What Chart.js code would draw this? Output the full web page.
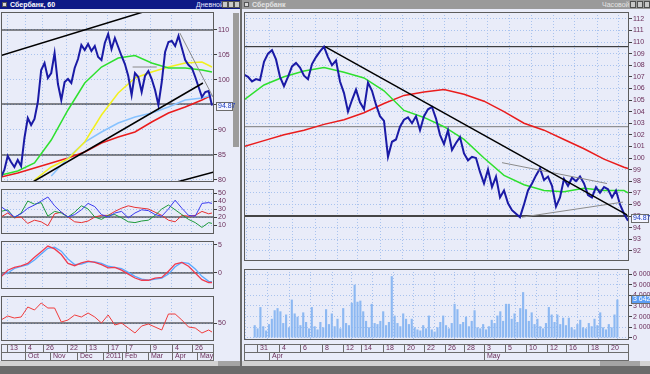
<!DOCTYPE html>
<html>
<head>
<meta charset="utf-8">
<script src="https://cdn.jsdelivr.net/npm/chart.js@4.4.1/dist/chart.umd.min.js"></script>
<style>
body{margin:0;width:650px;height:374px;background:#6b6b6b;position:relative;overflow:hidden;font-family:"Liberation Sans",Arial,sans-serif}
.win{position:absolute;background:#e9ecf9}
.bar{position:absolute;height:9px;font-size:7px;line-height:9px;font-weight:bold;box-sizing:border-box;padding-left:10px;white-space:nowrap}
.bar i{position:absolute;left:2px;top:2px;width:5px;height:5px;background:#d8d8d8;border:1px solid #555;box-sizing:border-box}
.bar span{position:absolute;font-weight:normal}
.btn{position:absolute;top:1px;width:6px;height:7px;background:#c8c8c8;border:1px solid #505050;box-sizing:border-box}
canvas{position:absolute}
</style>
</head>
<body>
<div class="win" style="left:0;top:9px;width:240px;height:357px"></div>
<div class="win" style="left:242px;top:9px;width:408px;height:357px"></div>
<div class="bar" style="left:0;top:0;width:240px;background:#0e1a86;color:#fff"><i></i>Сбербанк, 60<span style="left:196px;color:#e8e8ff">Дневной</span>
  <div class="btn" style="left:222px"></div><div class="btn" style="left:228px"></div><div class="btn" style="left:234px"></div></div>
<div class="bar" style="left:242px;top:0;width:408px;background:#9a9a9a;color:#e4e4e4"><i></i>Сбербанк<span style="left:360px">Часовой</span>
  <div class="btn" style="left:388px"></div><div class="btn" style="left:395px"></div><div class="btn" style="left:402px"></div></div>
<div style="position:absolute;left:233px;top:13px;width:6px;height:134px;background:#9c9c9c"></div>
<div style="position:absolute;left:0;top:361px;width:240px;height:5px;background:#d2d2d2"></div>
<div style="position:absolute;left:218px;top:361px;width:22px;height:5px;background:#a4a4a4"></div>
<div style="position:absolute;left:242px;top:361px;width:408px;height:5px;background:#d2d2d2"></div>
<div style="position:absolute;left:600px;top:361px;width:40px;height:5px;background:#a4a4a4"></div>

<canvas id="lp" width="239" height="170" style="left:1px;top:12px"></canvas>
<canvas id="ld" width="239" height="45" style="left:1px;top:189px"></canvas>
<canvas id="lm" width="239" height="48" style="left:1px;top:241px"></canvas>
<canvas id="lr" width="239" height="66" style="left:1px;top:296px"></canvas>
<canvas id="rp" width="406" height="249" style="left:244px;top:12px"></canvas>
<canvas id="rv" width="406" height="94" style="left:244px;top:269px"></canvas>

<script>
// ---- left window: daily chart, one sample every ~2.7 sessions ----
const leftClose = [80.6, 82.0, 84.8, 83.6, 82.6, 84.0, 82.8, 88.4, 92.4, 91.0,
  92.2, 95.6, 102.0, 103.4, 100.4, 101.4, 105.4, 99.2, 96.0, 99.6,
  100.2, 99.4, 102.4, 104.2, 107.0, 106.0, 107.2, 105.8, 106.8, 104.6,
  104.0, 107.4, 109.2, 106.2, 108.4, 106.6, 104.8, 103.2, 100.8, 97.0,
  101.4, 100.6, 97.6, 100.8, 101.8, 100.2, 98.0, 95.0, 99.6, 105.6,
  107.6, 107.8, 106.8, 108.8, 106.4, 104.0, 103.0, 102.4, 100.6, 98.6,
  96.6, 97.6, 97.8, 94.9];
// moving averages, every 5th sample
const leftGreen = [81.0, 81.8, 83.4, 88.0, 94.0, 99.4, 102.6, 104.4, 104.9, 103.4, 102.4, 102.4, 102.0, 101.6];
const leftYellow = [null, null, 80.0, 82.6, 84.2, 87.6, 93.0, 97.4, 100.4, 101.6, 102.6, 103.4, 103.6, 102.6];
const leftBlue = [null, null, null, 80.8, 84.4, 87.6, 89.6, 91.4, 92.6, 93.4, 94.6, 96.0, 96.4, 97.0];
const leftRed = [80.6, 81.4, 82.4, 83.4, 84.4, 85.6, 87.4, 88.6, 89.6, 91.6, 93.4, 94.6, 96.0, 97.0];
const leftLevels = [110, 95.2, 85];
const leftTrendBlack = [[0, 104.9, 42.4, 113.6], [52.5, 79.6, 63.6, 81.6], [9.5, 79.6, 60.3, 99.4]];
const leftTrendGray = [[53.4, 109.4, 63.3, 96.6], [39.3, 102.6, 46.5, 102.6]];
const leftPriceTicks = [80, 85, 90, 95, 100, 105, 110];
// indicators, every 2nd sample
const dmiBlue = [33, 27, 20, 24, 31, 35, 40, 45, 34, 26, 20, 23, 29, 37, 33, 23, 20, 25, 27, 19, 25, 29, 28, 23, 21, 30, 41, 31, 22, 21, 37, 38, 37];
const dmiGreen = [27, 29, 19, 25, 40, 36, 38, 21, 27, 25, 20, 26, 34, 30, 20, 17, 22, 23, 19, 14, 13, 15, 16, 22, 30, 35, 29, 23, 17, 13, 7, 13, 12];
const dmiRed = [20, 25, 19, 20, 12, 16, 14, 9, 24, 26, 20, 14, 13, 15, 20, 22, 22, 27, 31, 34, 32, 31, 30, 26, 22, 16, 14, 22, 21, 22, 27, 24, 25];
const macdRed = [-0.7, 0.5, 1.0, 1.25, 1.7, 2.8, 3.8, 4.8, 4.3, 3.3, 1.7, 1.3, 1.8, 2.1, 1.9, 1.5, 0.9, 1.0, 0.5, -0.2, -0.9, -1.3, -1.3, -0.9, -0.8, 0.3, 1.6, 1.9, 1.2, 0.0, -1.2, -1.7, -1.7];
const macdBlue = [-0.4, 0.0, 0.8, 1.2, 1.5, 2.3, 3.4, 4.4, 4.6, 3.9, 2.5, 1.5, 1.6, 2.0, 2.0, 1.7, 1.2, 1.0, 0.8, 0.1, -0.6, -1.1, -1.3, -1.1, -0.9, -0.2, 1.1, 1.9, 1.7, 0.7, -0.6, -1.5, -1.6];
const rsiRed = [53, 57, 55, 56, 66, 63, 70, 65, 65, 51, 53, 58, 56, 60, 56, 50, 58, 48, 50, 45, 40, 47, 49, 46, 43, 59, 59, 53, 46, 45, 40, 43, 41];
const leftDays = [1.8, 7.2, 12.5, 19.7, 25.4, 31.9, 37.3, 44.5, 51.0, 57.0];
const leftDayLabels = ['13', '4', '26', '22', '13', '17', '7', '9', '4', '26'];
const leftMonths = [7.2, 14.6, 22.7, 30.4, 36.1, 43.9, 51.0, 58.5];
const leftMonthLabels = ['Oct', 'Nov', 'Dec', '2011', 'Feb', 'Mar', 'Apr', 'May'];

// ---- right window: hourly chart ----
const rightClose = [107.2, 107.0, 106.6, 106.8, 106.7, 108.3, 109.0, 109.3, 108.5, 107.0,
  106.2, 107.0, 107.9, 108.2, 107.8, 107.1, 106.8, 108.1, 108.7, 109.2,
  109.6, 108.7, 108.0, 108.4, 106.6, 105.6, 104.0, 105.0, 105.9, 104.8,
  104.2, 106.5, 105.8, 104.6, 103.6, 103.2, 100.1, 101.4, 101.6, 102.7,
  103.3, 103.5, 103.0, 103.6, 102.4, 103.6, 104.2, 104.4, 103.4, 102.0,
  101.2, 102.4, 100.7, 101.3, 101.8, 100.4, 99.8, 100.1, 100.0, 98.8,
  97.8, 99.0, 97.5, 98.4, 96.6, 97.2, 96.1, 95.5, 95.2, 94.9,
  96.0, 97.2, 97.8, 98.5, 99.1, 98.1, 98.4, 97.6, 95.8, 96.6,
  98.2, 97.6, 98.3, 98.0, 98.4, 97.8, 96.8, 96.6, 97.5, 97.0,
  97.5, 97.3, 96.6, 97.2, 96.0, 95.2, 94.6];
const rightGreen = [105.0, 106.3, 107.0, 107.5, 107.8, 107.4, 106.9, 105.8, 104.1, 103.5, 102.7, 101.6, 100.0, 98.5, 97.7, 97.2, 97.1, 97.4, 97.2, 97.2, 97.0];
const rightRed = [101.0, 101.5, 102.0, 102.4, 102.9, 103.3, 103.9, 104.7, 105.4, 105.7, 105.9, 105.5, 104.9, 104.0, 103.0, 102.4, 101.6, 100.8, 99.9, 99.2, 99.1];
const rightTrendBlack = [[20.25, 109.6, 95.75, 95.1]];
const rightTrendGray = [[64.5, 99.6, 90.75, 97.8], [69.5, 94.9, 94.75, 96.2]];
const rightPriceTicks = [92, 93, 94, 95, 96, 97, 98, 99, 100, 101, 102, 103, 104, 105, 106, 107, 108, 109, 110, 111, 112];
// volume, thousands
const volume = [1.2, 0.9, 2.9, 1.1, 0.7, 1.3, 1.8, 2.6, 2.8, 2.5, 1.4, 2.2, 1.0, 3.6, 2.3, 2.0, 1.2, 2.4, 1.5, 0.9,
  2.9, 1.1, 0.8, 1.5, 1.0, 2.7, 1.3, 2.3, 1.1, 1.8, 0.9, 2.8, 1.4, 1.2, 3.3, 5.0, 3.4, 3.5, 2.5, 1.6,
  1.0, 3.2, 1.4, 1.3, 1.6, 2.5, 1.2, 1.5, 5.8, 2.1, 1.4, 1.1, 2.3, 1.8, 1.3, 1.8, 1.0, 0.8, 0.7, 1.2,
  0.9, 2.1, 0.8, 0.6, 1.0, 1.5, 2.1, 1.2, 0.9, 1.4, 3.2, 2.7, 1.3, 1.5, 2.0, 1.1, 1.6, 2.6, 1.0, 0.9,
  1.3, 0.8, 1.1, 1.7, 1.4, 2.1, 2.5, 1.6, 3.2, 3.2, 1.8, 2.3, 1.5, 2.8, 4.3, 2.7, 1.6, 2.4, 1.3, 1.8,
  1.1, 0.9, 1.4, 2.9, 2.2, 1.5, 2.2, 1.3, 1.9, 1.2, 1.9, 1.0, 0.8, 1.3, 1.7, 1.0, 0.9, 1.4, 1.1, 1.8,
  1.2, 2.4, 1.0, 0.8, 1.3, 1.0, 2.2, 3.6];
const volumeTicks = [0, 1, 2, 3, 4, 5, 6];
const rightDays = [0.5, 6.5, 12, 17.75, 23.25, 28.25, 34, 39.5, 44.75, 50.25, 55.5, 60.75, 66.25, 71.75, 77.25, 82.5, 88.25, 93.5];
const rightDayLabels = ['31', '4', '6', '8', '12', '14', '18', '20', '22', '26', '28', '3', '5', '10', '12', '16', '18', '20'];
const rightMonths = [3.75, 60.75];
const rightMonthLabels = ['Apr', 'May'];

const FONT = '"Liberation Sans", Arial, sans-serif';
const TXT = '#6a2d5a';
const GRID = '#a9c3ee';

const framePlugin = {
  id: 'frame',
  afterDraw(chart, args, o) {
    const ctx = chart.ctx, a = chart.chartArea;
    ctx.save();
    ctx.strokeStyle = '#5c5c5c';
    ctx.lineWidth = 1;
    ctx.strokeRect(a.left + 0.5, a.top + 0.5, a.right - a.left - 1, a.bottom - a.top - 1);
    ctx.font = '7px ' + FONT;
    ctx.textBaseline = 'middle';
    ctx.textAlign = 'left';
    if (o.tag) {
      const y = Math.round(chart.scales.y.getPixelForValue(o.tag.value));
      ctx.fillStyle = o.tag.bg;
      ctx.fillRect(a.right + 2, y - 4, o.tag.width, 9);
      ctx.strokeStyle = '#6c6c6c';
      ctx.strokeRect(a.right + 2.5, y - 3.5, o.tag.width - 1, 8);
      ctx.fillStyle = o.tag.color;
      ctx.fillText(o.tag.text, a.right + 4, y + 0.5);
    }
    if (o.strip) {
      const s = o.strip, xs = chart.scales.x, top = a.bottom + s.gap;
      ctx.strokeStyle = '#6c6c6c';
      ctx.strokeRect(a.left + 0.5, top + 0.5, a.right - a.left - 1, 8);
      ctx.strokeRect(a.left + 0.5, top + 8.5, a.right - a.left - 1, 8);
      ctx.fillStyle = TXT;
      const row = (vals, labels, y0) => vals.forEach((v, i) => {
        const px = Math.round(xs.getPixelForValue(v)) + 0.5;
        ctx.beginPath();
        ctx.moveTo(px, y0);
        ctx.lineTo(px, y0 + 8);
        ctx.stroke();
        ctx.fillText(labels[i], px + 2.5, y0 + 4.5);
      });
      row(s.days, s.dayLabels, top);
      row(s.months, s.monthLabels, top + 8);
    }
    ctx.restore();
  }
};

function line(data, color, width, extra) {
  return Object.assign({type: 'line', data: data, borderColor: color, borderWidth: width,
    pointRadius: 0, tension: 0, fill: false}, extra || {});
}
function series(arr, step, last) {
  return arr.map((v, k) => ({x: Math.min(k * step, last), y: v}));
}
function segs(list, color, width) {
  return list.map(s => line([{x: s[0], y: s[1]}, {x: s[2], y: s[3]}], color, width));
}
function levels(list, xMax, color, width) {
  return list.map(v => line([{x: 0, y: v}, {x: xMax, y: v}], color, width));
}

function panel(id, c) {
  return new Chart(document.getElementById(id), {
    type: 'line',
    data: {datasets: c.datasets},
    options: {
      responsive: false,
      animation: false,
      events: [],
      layout: {padding: {top: 0, left: 0, right: 0, bottom: c.padBottom || 0}},
      plugins: {legend: {display: false}, tooltip: {enabled: false}, frame: {tag: c.tag, strip: c.strip}},
      scales: {
        x: {
          type: 'linear', min: 0, max: c.xMax,
          ticks: {display: false},
          grid: {color: GRID, drawTicks: false},
          border: {display: false, dash: [1, 2]},
          afterBuildTicks: s => { s.ticks = c.xGrid.map(v => ({value: v})); },
          afterFit: s => { s.height = 0; s.paddingLeft = 0; s.paddingRight = 0; }
        },
        y: {
          position: 'right', min: c.yMin, max: c.yMax,
          ticks: {font: {size: 7, family: FONT}, color: TXT, padding: 1, autoSkip: false, callback: c.fmt || (v => v)},
          grid: {color: GRID, tickLength: 3, tickColor: '#404040', tickBorderDash: []},
          border: {display: false, dash: [1, 2]},
          afterBuildTicks: s => { s.ticks = c.yTicks.map(v => ({value: v})); },
          afterFit: s => { s.width = c.axisW; s.paddingTop = 0; s.paddingBottom = 0; }
        }
      }
    },
    plugins: [framePlugin]
  });
}

const LX = 63.6, RX = 96.25;

panel('lp', {
  xMax: LX, yMin: 79.6, yMax: 113.6, axisW: 26, yTicks: leftPriceTicks, xGrid: leftDays,
  tag: {value: 94.87, text: '94.87', width: 17, bg: '#f4f5ff', color: '#1838c0'},
  datasets: [].concat(
    segs(leftTrendBlack, '#000000', 1.5),
    segs(leftTrendGray, '#8a8a8a', 1),
    [line(series(leftClose, 1, 63), '#1a1aa6', 2),
     line(series(leftGreen, 5, 63), '#2ee02e', 1.5),
     line(series(leftYellow, 5, 63), '#f2f01e', 1.5),
     line(series(leftBlue, 5, 63), '#86c2ff', 1.5),
     line(series(leftRed, 5, 63), '#ea1c1c', 1.5)],
    levels(leftLevels, LX, '#1a1a1a', 1))
});

panel('ld', {
  xMax: LX, yMin: -1.25, yMax: 55, axisW: 26, yTicks: [10, 20, 30, 40, 50], xGrid: leftDays,
  datasets: [
    line(series(dmiBlue, 2, 63), '#3a3af0', 1),
    line(series(dmiGreen, 2, 63), '#1e9a3c', 1),
    line(series(dmiRed, 2, 63), '#e83030', 1),
    line([{x: 0, y: 20}, {x: LX, y: 20}], '#1a1a1a', 1)]
});

panel('lm', {
  xMax: LX, yMin: -2.86, yMax: 5.71, axisW: 26, yTicks: [0, 5], xGrid: leftDays,
  datasets: [
    line(series(macdRed, 2, 63), '#f03c50', 1.3),
    line(series(macdBlue, 2, 63), '#5aa8ff', 1.3),
    line([{x: 0, y: 0}, {x: LX, y: 0}], '#1a1a1a', 1)]
});

panel('lr', {
  xMax: LX, yMin: 32, yMax: 77, axisW: 26, yTicks: [50], xGrid: leftDays, padBottom: 21,
  strip: {gap: 3, days: leftDays, dayLabels: leftDayLabels, months: leftMonths, monthLabels: leftMonthLabels},
  datasets: [
    line(series(rsiRed, 2, 63), '#f03c3c', 1),
    line([{x: 0, y: 50}, {x: LX, y: 50}], '#1a1a1a', 1)]
});

panel('rp', {
  xMax: RX, yMin: 91.12, yMax: 112.59, axisW: 21, yTicks: rightPriceTicks, xGrid: rightDays,
  tag: {value: 94.87, text: '94.87', width: 18, bg: '#f4f5ff', color: '#1838c0'},
  datasets: [].concat(
    segs(rightTrendBlack, '#000000', 1.5),
    segs(rightTrendGray, '#8a8a8a', 1),
    [line(series(rightClose, 1, 96), '#1a1aa6', 2),
     line(series(rightGreen, 5, 96), '#2ee02e', 1.5),
     line(series(rightRed, 5, 96), '#ea1c1c', 1.5)],
    [line([{x: 0, y: 109.6}, {x: RX, y: 109.6}], '#1a1a1a', 1),
     line([{x: 0, y: 102.7}, {x: RX, y: 102.7}], '#7a7a7a', 1),
     line([{x: 0, y: 95.0}, {x: RX, y: 95.0}], '#454545', 2)])
});

panel('rv', {
  xMax: RX, yMin: -0.19, yMax: 6.47, axisW: 21, yTicks: volumeTicks, xGrid: rightDays, padBottom: 23,
  fmt: v => (v === 0 ? '0' : v + ' 000.0'),
  tag: {value: 3.642, text: '3 642.0', width: 20, bg: '#5c9ef6', color: '#ffffff'},
  strip: {gap: 4, days: rightDays, dayLabels: rightDayLabels, months: rightMonths, monthLabels: rightMonthLabels},
  datasets: [{
    type: 'bar',
    data: volume.map((v, j) => ({x: j * 96 / (volume.length - 1), y: v})),
    backgroundColor: '#8cb8f2',
    barPercentage: 0.75,
    categoryPercentage: 1
  }]
});
</script>
</body>
</html>
